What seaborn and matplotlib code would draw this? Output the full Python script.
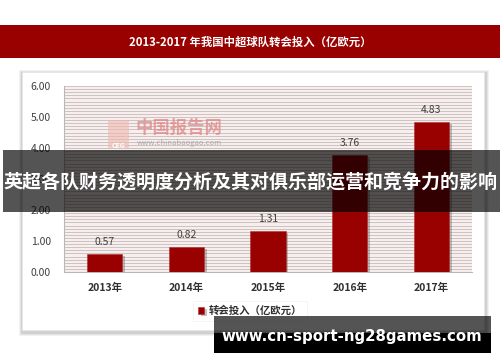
import numpy as np
import pandas as pd
import matplotlib
matplotlib.use("Agg")
import matplotlib.pyplot as plt
import matplotlib.patheffects as pe
from matplotlib.patches import Rectangle
import seaborn as sns

# ---- data ----
years = ["2013年", "2014年", "2015年", "2016年", "2017年"]
values = [0.57, 0.82, 1.31, 3.76, 4.83]
y_ticks = [0, 1, 2, 3, 4, 5, 6]
title = "2013-2017 年我国中超球队转会投入（亿欧元）"
series_name = "转会投入（亿欧元）"
overlay_title = "英超各队财务透明度分析及其对俱乐部运营和竞争力的影响"
overlay_url = "www.cn-sport-ng28games.com"

sns.set_theme(style="white")
plt.rcParams['font.family'] = ['Noto Sans CJK SC', 'DejaVu Sans']

W, H = 500, 362
fig = plt.figure(figsize=(W / 100, H / 100), dpi=100)
fig.patch.set_facecolor("white")

def fx(px):
    return px / W

def fy(py):
    return 1 - py / H

def rect(x0, y0, x1, y1, **kw):
    r = Rectangle((fx(x0), fy(y1)), fx(x1) - fx(x0), fy(y0) - fy(y1),
                  transform=fig.transFigure, **kw)
    fig.add_artist(r)
    return r

# title banner
rect(0, 25, 500, 58, facecolor="#990000", edgecolor="none", zorder=1)
fig.text(0.5, fy(42), title, color="white", fontsize=8.2, fontweight="bold",
         ha="center", va="center", zorder=2)

# panel shadow + panel
for i, a in enumerate([0.05, 0.06, 0.08]):
    d = 4 - i
    rect(22 - d + 1, 72 - d + 2, 484 + d + 1, 330 + d + 2, facecolor="black",
         alpha=a, edgecolor="none", zorder=1)
rect(22, 72, 484, 330, facecolor="white", edgecolor="#e6e6e6", lw=0.5, zorder=1.5)

# axes
ax = fig.add_axes([fx(64), fy(272), fx(472) - fx(64), fy(86) - fy(272)])
ax.set_zorder(3)
ax.set_facecolor("#f8eeee")
df = pd.DataFrame({"year": years, "value": values, "series": series_name})
sns.barplot(data=df, x="year", y="value", color="#990000", width=0.43,
            ax=ax, saturation=1, label=series_name, zorder=3)
for p in ax.patches:
    p.set_path_effects([pe.SimplePatchShadow(offset=(2, -1.5), shadow_rgbFace="#555555", alpha=0.35),
                        pe.Normal()])
    p.set_edgecolor("#b03030")
    p.set_linewidth(0.4)
ax.set_ylim(0, 6)
ax.set_xlim(-0.5, 4.5)
ax.set_yticks(y_ticks)
ax.set_yticklabels([f"{t:.2f}" for t in y_ticks])
ax.set_yticks(np.arange(0, 6.01, 0.1), minor=True)
ax.yaxis.grid(True, which="both", color="#cbc2c2", lw=0.7, zorder=0)
ax.set_axisbelow(True)
ax.set_xlabel("")
ax.set_ylabel("")
ax.tick_params(axis="y", which="both", length=0, pad=9.5, labelsize=7.5, labelcolor="#404040")
ax.tick_params(axis="x", length=0, pad=8, labelsize=7.5, labelcolor="#303030")
for lab in ax.get_xticklabels():
    lab.set_fontweight("bold")
for s in ["top", "right"]:
    ax.spines[s].set_visible(False)
for s in ["left", "bottom"]:
    ax.spines[s].set_color("#b8b8b8")
    ax.spines[s].set_linewidth(0.8)
for p, v in zip(ax.patches, values):
    ax.annotate(f"{v:.2f}", (p.get_x() + p.get_width() / 2, v), xytext=(0, 5),
                textcoords="offset points", ha="center", va="bottom",
                fontsize=7.5, color="#404040", zorder=5)

# legend
leg = ax.legend(loc="center", bbox_to_anchor=(fx(250), fy(311)), bbox_transform=fig.transFigure,
                frameon=True, fontsize=7.5, handlelength=0.6, handleheight=0.6,
                handletextpad=0.4, borderpad=0.5, fancybox=False, shadow=False)
leg.get_frame().set_edgecolor("#eeeeee")
leg.get_frame().set_linewidth(0.5)
for t in leg.get_texts():
    t.set_color("#303030")
    t.set_fontweight("bold")

# watermark
rect(108, 120, 129, 148, facecolor="#f0b8b0", edgecolor="none", alpha=0.6, zorder=4)
fig.text(fx(118), fy(145), "CEG", color="white", fontsize=5, ha="center", va="center",
         fontweight="bold", zorder=4.5)
fig.text(fx(179), fy(128), "中国报告网", color="#e08080", alpha=0.7, fontsize=12.5,
         fontweight="bold", ha="center", va="center", zorder=4)
fig.text(fx(179), fy(143), "www.chinabaogao.com", color="#a0a0a0", alpha=0.8, fontsize=5.5,
         ha="center", va="center", zorder=4)

# overlay banners
rect(3, 150, 500, 212, facecolor="black", alpha=0.67, edgecolor="none", zorder=10)
fig.text(fx(250), fy(182), overlay_title, color="white", fontsize=13.7, fontweight="bold",
         ha="center", va="center", zorder=11)
rect(214, 316, 491, 333, facecolor="black", alpha=0.67, edgecolor="none", zorder=10)
rect(214, 333, 491, 353, facecolor="black", edgecolor="none", zorder=10)
fig.text(fx(352), fy(337), overlay_url, color="white", fontsize=10.8, fontweight="bold",
         family="DejaVu Sans", ha="center", va="center", zorder=11)

fig.savefig("out.png", dpi=100)
